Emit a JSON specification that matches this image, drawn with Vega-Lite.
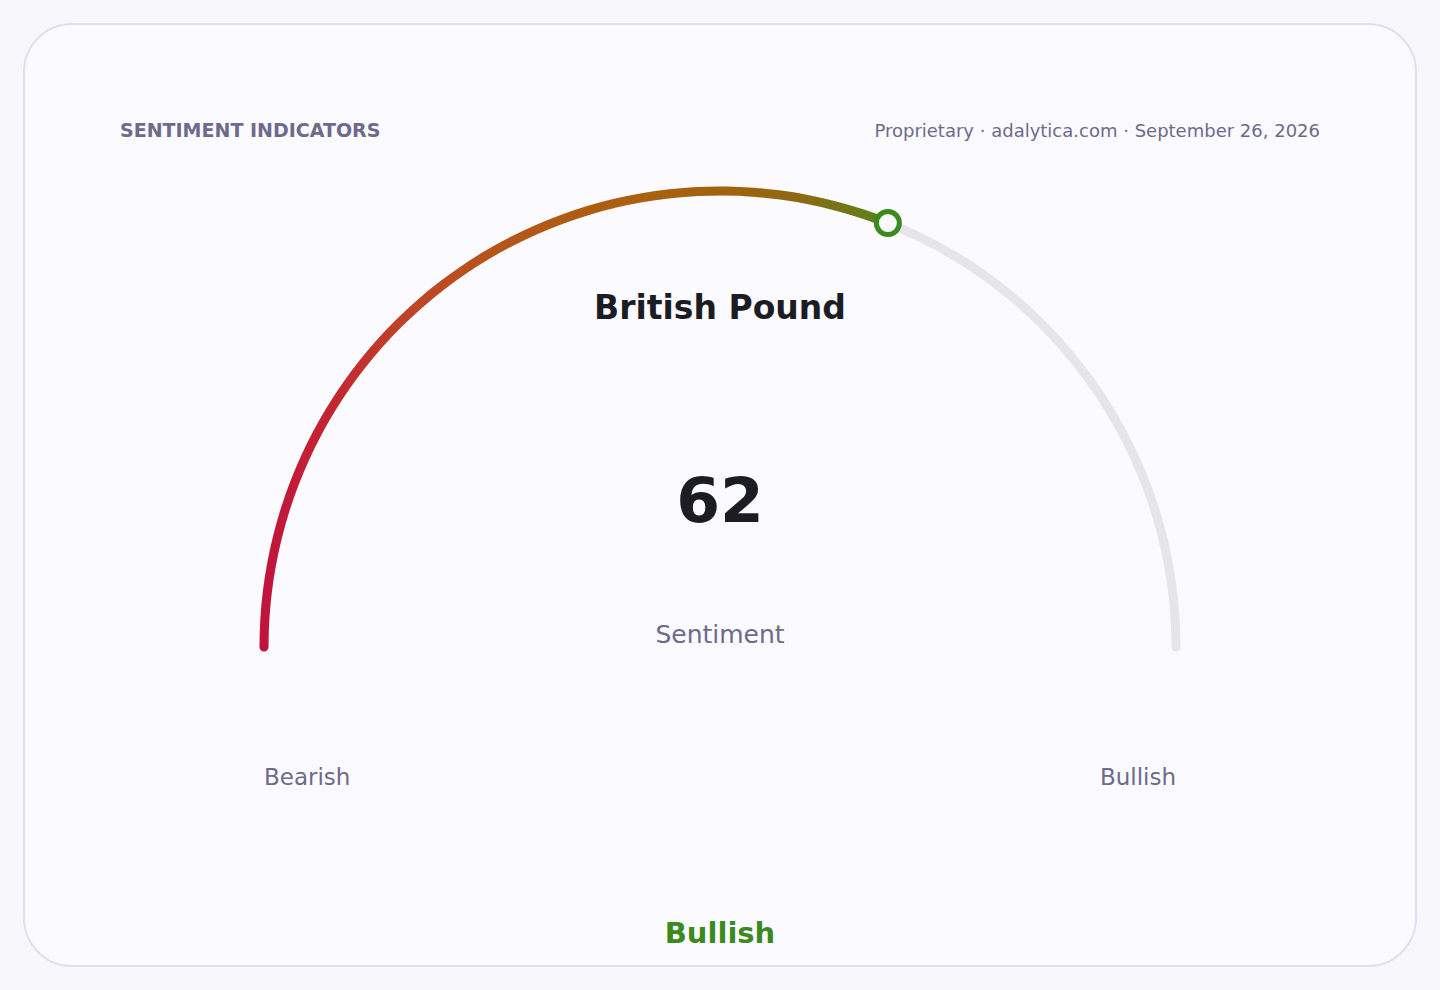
{
  "$schema": "https://vega.github.io/schema/vega-lite/v6.json",
  "width": 1440,
  "height": 990,
  "autosize": {"type": "fit", "contains": "padding"},
  "padding": 24,
  "background": "#f7f7fc",
  "view": {"fill": "#fafaff", "stroke": "#e1dfef", "strokeWidth": 2, "cornerRadius": 48},
  "config": {"font": "DejaVu Sans"},
  "data": {
    "values": [
      {
        "asset": "British Pound",
        "metric": "Sentiment",
        "min": 0,
        "value": 62,
        "max": 100,
        "reading": "Bullish",
        "low": "Bearish",
        "high": "Bullish",
        "header": "SENTIMENT INDICATORS",
        "source": "Proprietary · adalytica.com · September 26, 2026"
      }
    ]
  },
  "layer": [
    {
      "mark": {
        "type": "arc",
        "radius": 460.5,
        "radius2": 451.5,
        "cornerRadius": 4.5,
        "thetaOffset": -0.0099,
        "theta2Offset": 0.0099,
        "color": "#e5e5ea"
      },
      "encoding": {
        "x": {"datum": 0, "type": "quantitative", "scale": {"domain": [-1.52632, 1.52632], "nice": false, "zero": false}, "axis": null},
        "y": {"datum": 0, "type": "quantitative", "scale": {"domain": [-0.69956, 1.36623], "nice": false, "zero": false}, "axis": null},
        "theta": {
          "field": "min",
          "type": "quantitative",
          "scale": {"domain": [0, 100], "range": [-1.5707963, 1.5707963]}
        },
        "theta2": {"field": "max"}
      }
    },
    {
      "mark": {
        "type": "arc",
        "radius": 460.5,
        "radius2": 451.5,
        "cornerRadius": 4.5,
        "thetaOffset": -0.0099,
        "theta2Offset": 0.0099,
        "fill": {
          "gradient": "linear",
          "x1": 0, "y1": 0, "x2": 1, "y2": 0,
          "stops": [
            {"offset": 0, "color": "#c0133d"},
            {"offset": 0.11, "color": "#c42532"},
            {"offset": 0.22, "color": "#c0402a"},
            {"offset": 0.33, "color": "#b8521c"},
            {"offset": 0.54, "color": "#ad5e10"},
            {"offset": 0.73, "color": "#a3620e"},
            {"offset": 0.86, "color": "#8a6a12"},
            {"offset": 0.95, "color": "#6a7a18"},
            {"offset": 1, "color": "#4d8a1e"}
          ]
        }
      },
      "encoding": {
        "x": {"datum": 0, "type": "quantitative", "scale": {"domain": [-1.52632, 1.52632], "nice": false, "zero": false}, "axis": null},
        "y": {"datum": 0, "type": "quantitative", "scale": {"domain": [-0.69956, 1.36623], "nice": false, "zero": false}, "axis": null},
        "theta": {"field": "min", "type": "quantitative", "scale": {"domain": [0, 100], "range": [-1.5707963, 1.5707963]}},
        "theta2": {"field": "value"}
      }
    },
    {
      "transform": [
        {"calculate": "-cos(PI * datum.value / 100)", "as": "mx"},
        {"calculate": "sin(PI * datum.value / 100)", "as": "my"}
      ],
      "mark": {
        "type": "point",
        "shape": "circle",
        "filled": false,
        "fill": "#fafaff",
        "stroke": "#3a8a1e",
        "strokeWidth": 5,
        "size": 530,
        "opacity": 1
      },
      "encoding": {
        "x": {"field": "mx", "type": "quantitative", "scale": {"domain": [-1.52632, 1.52632], "nice": false, "zero": false}, "axis": null},
        "y": {"field": "my", "type": "quantitative", "scale": {"domain": [-0.69956, 1.36623], "nice": false, "zero": false}, "axis": null}
      }
    },
    {
      "mark": {"type": "text", "align": "left", "baseline": "alphabetic", "fontSize": 19, "fontWeight": "bold", "color": "#6e6a8c"},
      "encoding": {
        "x": {"datum": -1.3158, "type": "quantitative"},
        "y": {"datum": 1.1184, "type": "quantitative"},
        "text": {"field": "header"}
      }
    },
    {
      "mark": {"type": "text", "align": "right", "baseline": "alphabetic", "fontSize": 18, "color": "#6e6a8a"},
      "encoding": {
        "x": {"datum": 1.3158, "type": "quantitative"},
        "y": {"datum": 1.1184, "type": "quantitative"},
        "text": {"field": "source"}
      }
    },
    {
      "mark": {"type": "text", "align": "center", "baseline": "alphabetic", "fontSize": 33, "fontWeight": "bold", "color": "#1c1c24"},
      "encoding": {
        "x": {"datum": 0, "type": "quantitative"},
        "y": {"datum": 0.7193, "type": "quantitative"},
        "text": {"field": "asset"}
      }
    },
    {
      "mark": {"type": "text", "align": "center", "baseline": "alphabetic", "fontSize": 63, "fontWeight": "bold", "color": "#1c1c24"},
      "encoding": {
        "x": {"datum": 0, "type": "quantitative"},
        "y": {"datum": 0.2752, "type": "quantitative"},
        "text": {"field": "value", "type": "quantitative"}
      }
    },
    {
      "mark": {"type": "text", "align": "center", "baseline": "alphabetic", "fontSize": 25, "color": "#6e6a8a"},
      "encoding": {
        "x": {"datum": 0, "type": "quantitative"},
        "y": {"datum": 0.0094, "type": "quantitative"},
        "text": {"field": "metric"}
      }
    },
    {
      "mark": {"type": "text", "align": "left", "baseline": "alphabetic", "fontSize": 23, "color": "#6e6a8a"},
      "encoding": {
        "x": {"datum": -1, "type": "quantitative"},
        "y": {"datum": -0.3026, "type": "quantitative"},
        "text": {"field": "low"}
      }
    },
    {
      "mark": {"type": "text", "align": "right", "baseline": "alphabetic", "fontSize": 23, "color": "#6e6a8a"},
      "encoding": {
        "x": {"datum": 1, "type": "quantitative"},
        "y": {"datum": -0.3026, "type": "quantitative"},
        "text": {"field": "high"}
      }
    },
    {
      "mark": {"type": "text", "align": "center", "baseline": "alphabetic", "fontSize": 29, "fontWeight": "bold", "color": "#3a8a20"},
      "encoding": {
        "x": {"datum": 0, "type": "quantitative"},
        "y": {"datum": -0.6491, "type": "quantitative"},
        "text": {"field": "reading"}
      }
    }
  ]
}
